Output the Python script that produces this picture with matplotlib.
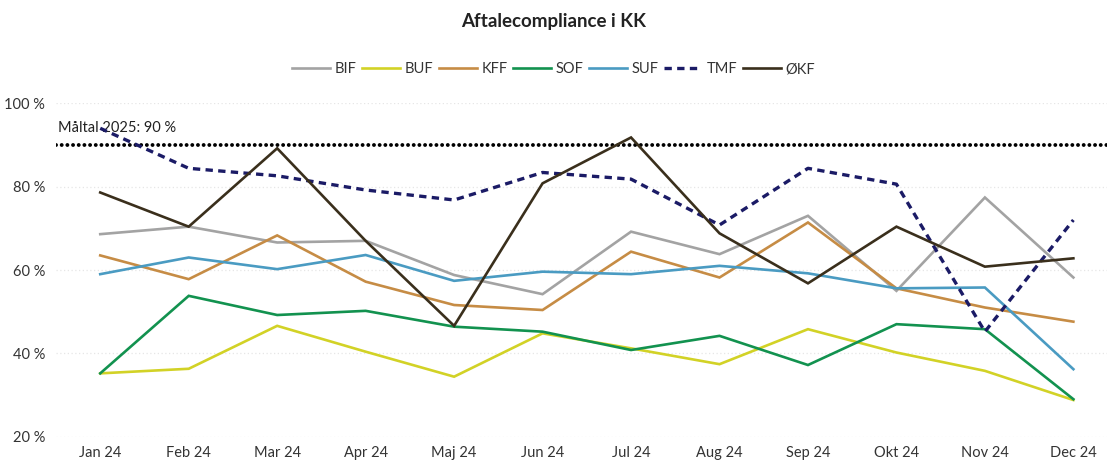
import matplotlib
matplotlib.use("Agg")
import matplotlib.pyplot as plt
from matplotlib.lines import Line2D

months = ["Jan 24", "Feb 24", "Mar 24", "Apr 24", "Maj 24", "Jun 24",
          "Jul 24", "Aug 24", "Sep 24", "Okt 24", "Nov 24", "Dec 24"]

BIF = [68.6, 70.4, 66.6, 67.0, 58.8, 54.2, 69.2, 63.8, 73.0, 55.0, 77.4, 58.2]
BUF = [35.2, 36.3, 46.6, 40.4, 34.4, 44.8, 41.2, 37.4, 45.8, 40.2, 35.8, 28.8]
KFF = [63.5, 57.8, 68.3, 57.2, 51.6, 50.4, 64.4, 58.2, 71.4, 55.6, 51.0, 47.6]
SOF = [35.2, 53.8, 49.2, 50.2, 46.4, 45.2, 40.8, 44.2, 37.2, 47.0, 45.8, 29.0]
SUF = [59.0, 63.0, 60.2, 63.6, 57.4, 59.6, 59.0, 61.0, 59.2, 55.6, 55.8, 36.2]
TMF = [94.0, 84.4, 82.6, 79.2, 76.8, 83.4, 81.8, 70.8, 84.4, 80.6, 45.2, 72.0]
OKF = [78.6, 70.4, 89.2, 67.0, 46.6, 80.8, 91.8, 68.8, 56.8, 70.4, 60.8, 62.8]

target = 90
target_label = "Måltal 2025: 90 %"
title = "Aftalecompliance i KK"
yticks = [20, 40, 60, 80, 100]

series = [
    ("BIF", BIF, "#A3A3A3", "-"),
    ("BUF", BUF, "#D2D226", "-"),
    ("KFF", KFF, "#C68C45", "-"),
    ("SOF", SOF, "#12924F", "-"),
    ("SUF", SUF, "#4A9BC2", "-"),
    ("TMF", TMF, "#1B1B66", (0, (2.2, 1.6))),
    ("ØKF", OKF, "#3A2F1C", "-"),
]

plt.rcParams['font.family'] = ['Lato', 'DejaVu Sans']

W, H = 1107, 463
fig = plt.figure(figsize=(W / 100, H / 100), dpi=100)
left, right = 56 / W, 1.0
bottom, top = 1 - 436.7 / H, 1 - 103.3 / H
ax = fig.add_axes([left, bottom, right - left, top - bottom])

x = list(range(len(months)))
for name, vals, color, ls in series:
    lw = 2.4 if name == "TMF" else 1.9
    ax.plot(x, vals, color=color, lw=lw, linestyle=ls, label=name,
            solid_joinstyle='miter', zorder=3)

ax.axhline(target, color="black", lw=2.8, linestyle=(0, (0.01, 1.45)),
           dash_capstyle='round', zorder=2)
ax.annotate(target_label, xy=(-0.48, target), xytext=(0, 7),
            textcoords='offset points', ha='left', va='bottom',
            fontsize=10.5, color="#222222", zorder=2)

ax.set_xlim(-0.5, 11.38)
ax.set_ylim(20, 100)
ax.set_yticks(yticks)
ax.set_yticklabels([f"{v} %" for v in yticks])
ax.set_xticks(x)
ax.set_xticklabels(months)
for v in yticks:
    ax.axhline(v, color="#E6E6E6", lw=0.9, linestyle=(0, (1, 2)), zorder=1)

for s in ax.spines.values():
    s.set_visible(False)
ax.tick_params(axis='both', length=0, labelsize=10.5, colors="#333333")
ax.tick_params(axis='y', pad=8)
ax.tick_params(axis='x', pad=7)

fig.text(0.5, 1 - 22 / H, title, ha='center', va='center',
         fontsize=13.5, fontweight='bold', color="#222222")

handles = [Line2D([0], [0], color=c, lw=(2.4 if n == "TMF" else 1.9),
                  linestyle=ls) for n, v, c, ls in series]
fig.legend(handles, [s[0] for s in series], loc='center',
           bbox_to_anchor=(0.5, 1 - 69 / H), ncol=7, frameon=False,
           fontsize=10.5, handlelength=2.6, handletextpad=0.3,
           columnspacing=0.4, labelcolor="#333333")

fig.savefig("out.png", dpi=100)
